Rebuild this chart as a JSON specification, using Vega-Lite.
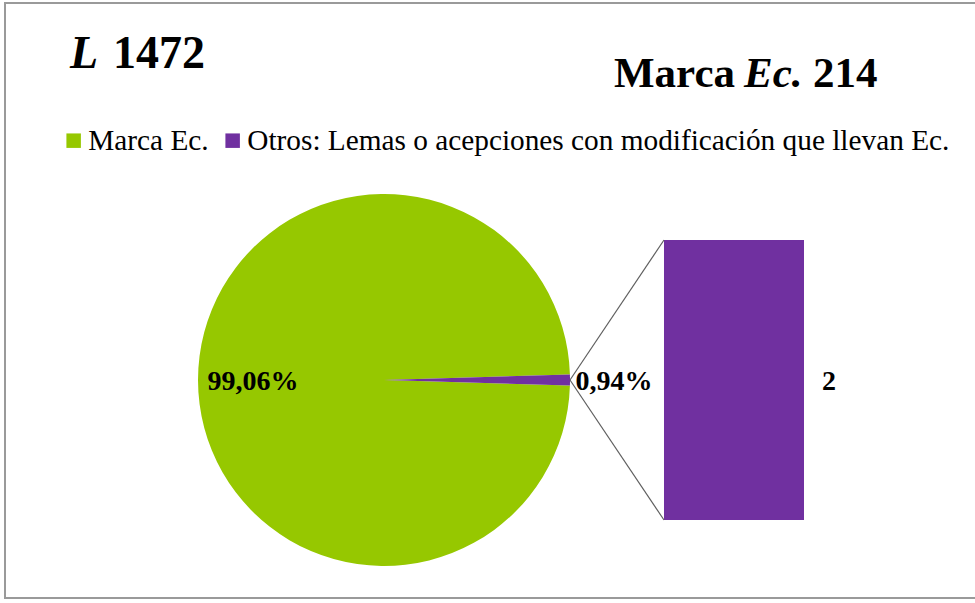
{
  "$schema": "https://vega.github.io/schema/vega-lite/v6.json",
  "width": 970,
  "height": 595,
  "autosize": {"type": "none"},
  "padding": {"left": 5, "top": 3, "right": 0, "bottom": 5},
  "background": "white",
  "config": {
    "view": {"stroke": null},
    "legend": {
      "orient": "none",
      "legendX": 54,
      "legendY": 123,
      "direction": "horizontal",
      "symbolType": "square",
      "symbolSize": 210,
      "symbolStrokeWidth": 0,
      "labelFont": "Liberation Serif",
      "labelFontSize": 29.3,
      "labelColor": "#000000",
      "labelLimit": 2000,
      "labelOffset": 0,
      "columnPadding": 9,
      "padding": 0,
      "title": null
    }
  },
  "data": {
    "values": [
      {"categoria": "Marca Ec.", "n": 212, "pct": "99,06%"},
      {"categoria": "Otros: Lemas o acepciones con modificación que llevan Ec.", "n": 2, "pct": "0,94%"}
    ]
  },
  "layer": [
    {
      "data": {"values": [{}]},
      "mark": {"type": "rect", "fill": null, "stroke": "#9a9a9a", "strokeWidth": 2},
      "encoding": {
        "x": {"datum": -2.70714, "type": "quantitative", "scale": {"domain": [-2.70714, 4.22143], "nice": false, "zero": false}, "axis": null},
        "x2": {"datum": 4.6},
        "y": {"datum": -0.55714, "type": "quantitative", "scale": {"domain": [-0.55714, 3.69286], "nice": false, "zero": false}, "axis": null},
        "y2": {"datum": 3.69286}
      }
    },
    {
      "mark": {"type": "arc", "outerRadius": 186},
      "encoding": {
        "x": {"datum": 0, "type": "quantitative", "scale": {"domain": [-2.70714, 4.22143], "nice": false, "zero": false}, "axis": null},
        "y": {"datum": 1, "type": "quantitative", "scale": {"domain": [-0.55714, 3.69286], "nice": false, "zero": false}, "axis": null},
        "theta": {"field": "n", "type": "quantitative", "stack": true, "scale": {"range": [1.541435, 7.82462]}},
        "order": {"field": "n", "sort": "ascending"},
        "color": {
          "field": "categoria",
          "type": "nominal",
          "scale": {
            "domain": ["Marca Ec.", "Otros: Lemas o acepciones con modificación que llevan Ec."],
            "range": ["#96C800", "#7030A0"]
          },
          "legend": {"title": null}
        }
      }
    },
    {
      "transform": [{"filter": "datum.categoria != 'Marca Ec.'"}],
      "mark": {"type": "rect"},
      "encoding": {
        "x": {"datum": 2, "type": "quantitative", "scale": {"domain": [-2.70714, 4.22143], "nice": false, "zero": false}, "axis": null},
        "x2": {"datum": 3},
        "y": {"field": "n", "type": "quantitative", "scale": {"domain": [-0.55714, 3.69286], "nice": false, "zero": false}, "axis": null},
        "y2": {"datum": 0},
        "color": {"field": "categoria", "type": "nominal"}
      }
    },
    {
      "data": {"values": [{}]},
      "mark": {"type": "rule", "color": "#5f5f5f", "strokeWidth": 1.2},
      "encoding": {
        "x": {"datum": 1.3286, "type": "quantitative", "scale": {"domain": [-2.70714, 4.22143], "nice": false, "zero": false}, "axis": null},
        "y": {"datum": 1, "type": "quantitative", "scale": {"domain": [-0.55714, 3.69286], "nice": false, "zero": false}, "axis": null},
        "x2": {"datum": 2},
        "y2": {"datum": 2}
      }
    },
    {
      "data": {"values": [{}]},
      "mark": {"type": "rule", "color": "#5f5f5f", "strokeWidth": 1.2},
      "encoding": {
        "x": {"datum": 1.3286, "type": "quantitative", "scale": {"domain": [-2.70714, 4.22143], "nice": false, "zero": false}, "axis": null},
        "y": {"datum": 1, "type": "quantitative", "scale": {"domain": [-0.55714, 3.69286], "nice": false, "zero": false}, "axis": null},
        "x2": {"datum": 2},
        "y2": {"datum": 0}
      }
    },
    {
      "transform": [{"filter": "datum.categoria == 'Marca Ec.'"}],
      "mark": {"type": "text", "font": "Liberation Serif", "fontWeight": "bold", "fontSize": 28, "color": "#000000", "dy": 2},
      "encoding": {
        "x": {"datum": -0.9357, "type": "quantitative", "scale": {"domain": [-2.70714, 4.22143], "nice": false, "zero": false}, "axis": null},
        "y": {"datum": 1, "type": "quantitative", "scale": {"domain": [-0.55714, 3.69286], "nice": false, "zero": false}, "axis": null},
        "text": {"field": "pct"}
      }
    },
    {
      "transform": [{"filter": "datum.categoria != 'Marca Ec.'"}],
      "mark": {"type": "text", "font": "Liberation Serif", "fontWeight": "bold", "fontSize": 28, "color": "#000000", "dy": 2},
      "encoding": {
        "x": {"datum": 1.643, "type": "quantitative", "scale": {"domain": [-2.70714, 4.22143], "nice": false, "zero": false}, "axis": null},
        "y": {"datum": 1, "type": "quantitative", "scale": {"domain": [-0.55714, 3.69286], "nice": false, "zero": false}, "axis": null},
        "text": {"field": "pct"}
      }
    },
    {
      "transform": [{"filter": "datum.categoria != 'Marca Ec.'"}],
      "mark": {"type": "text", "font": "Liberation Serif", "fontWeight": "bold", "fontSize": 28, "color": "#000000", "dy": 2},
      "encoding": {
        "x": {"datum": 3.179, "type": "quantitative", "scale": {"domain": [-2.70714, 4.22143], "nice": false, "zero": false}, "axis": null},
        "y": {"datum": 1, "type": "quantitative", "scale": {"domain": [-0.55714, 3.69286], "nice": false, "zero": false}, "axis": null},
        "text": {"field": "n"}
      }
    },
    {
      "data": {"values": [{"t": "L"}]},
      "mark": {"type": "text", "font": "Liberation Serif", "fontWeight": "bold", "fontStyle": "italic", "fontSize": 46, "color": "#000000", "align": "left", "baseline": "alphabetic"},
      "encoding": {
        "x": {"datum": -2.2429, "type": "quantitative", "scale": {"domain": [-2.70714, 4.22143], "nice": false, "zero": false}, "axis": null},
        "y": {"datum": 3.2264, "type": "quantitative", "scale": {"domain": [-0.55714, 3.69286], "nice": false, "zero": false}, "axis": null},
        "text": {"field": "t"}
      }
    },
    {
      "data": {"values": [{"t": "1472"}]},
      "mark": {"type": "text", "font": "Liberation Serif", "fontWeight": "bold", "fontSize": 46, "color": "#000000", "align": "left", "baseline": "alphabetic", "dx": 43},
      "encoding": {
        "x": {"datum": -2.2429, "type": "quantitative", "scale": {"domain": [-2.70714, 4.22143], "nice": false, "zero": false}, "axis": null},
        "y": {"datum": 3.2264, "type": "quantitative", "scale": {"domain": [-0.55714, 3.69286], "nice": false, "zero": false}, "axis": null},
        "text": {"field": "t"}
      }
    },
    {
      "data": {"values": [{"t": "Marca"}]},
      "mark": {"type": "text", "font": "Liberation Serif", "fontWeight": "bold", "fontSize": 43, "color": "#000000", "align": "left", "baseline": "alphabetic"},
      "encoding": {
        "x": {"datum": 1.6429, "type": "quantitative", "scale": {"domain": [-2.70714, 4.22143], "nice": false, "zero": false}, "axis": null},
        "y": {"datum": 3.095, "type": "quantitative", "scale": {"domain": [-0.55714, 3.69286], "nice": false, "zero": false}, "axis": null},
        "text": {"field": "t"}
      }
    },
    {
      "data": {"values": [{"t": "Ec."}]},
      "mark": {"type": "text", "font": "Liberation Serif", "fontWeight": "bold", "fontStyle": "italic", "fontSize": 43, "color": "#000000", "align": "left", "baseline": "alphabetic", "dx": 130},
      "encoding": {
        "x": {"datum": 1.6429, "type": "quantitative", "scale": {"domain": [-2.70714, 4.22143], "nice": false, "zero": false}, "axis": null},
        "y": {"datum": 3.095, "type": "quantitative", "scale": {"domain": [-0.55714, 3.69286], "nice": false, "zero": false}, "axis": null},
        "text": {"field": "t"}
      }
    },
    {
      "data": {"values": [{"t": "214"}]},
      "mark": {"type": "text", "font": "Liberation Serif", "fontWeight": "bold", "fontSize": 43, "color": "#000000", "align": "left", "baseline": "alphabetic", "dx": 199},
      "encoding": {
        "x": {"datum": 1.6429, "type": "quantitative", "scale": {"domain": [-2.70714, 4.22143], "nice": false, "zero": false}, "axis": null},
        "y": {"datum": 3.095, "type": "quantitative", "scale": {"domain": [-0.55714, 3.69286], "nice": false, "zero": false}, "axis": null},
        "text": {"field": "t"}
      }
    }
  ]
}
